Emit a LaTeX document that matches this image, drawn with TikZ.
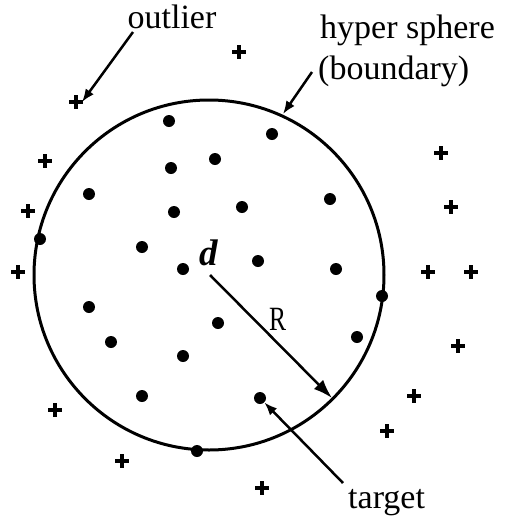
\documentclass[tikz,border=0pt]{standalone}
\usepackage{fontspec}
\setmainfont{Liberation Serif}
\usetikzlibrary{arrows.meta,calc}
\tikzset{
  dot/.style={circle,fill=black,inner sep=0pt,minimum size=12pt},
  arr/.style={line width=2.5pt,-{Latex[length=13pt,width=10pt]}},
  bigarr/.style={line width=2.5pt,-{Latex[length=19pt,width=13pt]}},
  lbl/.style={inner sep=0pt,anchor=base west,font=\fontsize{34}{40}\selectfont},
  pics/plusmark/.style={code={\draw[line width=3.2pt] (-7,0)--(7,0) (0,-7)--(0,7);}}
}
\begin{document}
\begin{tikzpicture}[x=1pt,y=-1pt]
\useasboundingbox (0,0) rectangle (504,520);
% boundary
\node[circle,draw,line width=3pt,minimum size=350pt,inner sep=0pt] (sph) at (209,275) {};
\coordinate (c) at (209,275);
% target points
\foreach \n/\x/\y in {a/169/121,b/272/134,e/215/159,f/171/168,g/89/194,h/330/199,i/242/207,j/174/212,k/40/239,l/142/247,m/258/261,n/183/269,o/336/269,p/382/296,q/89/307,r/218/323,s/357/337,t/111/342,u/183/356,v/142/396,tg/260/398,w/197/451}
  \node[dot] (\n) at (\x,\y) {};
% outliers
\foreach \n/\x/\y in {p1/239/52,p2/76/102,p3/45/161,p4/441/153,p5/451/207,p6/28/211,p7/18/272,p8/428/272,p9/471/272,p10/458/346,p11/414/396,p12/55/410,p13/387/431,p14/122/461,p15/262/488}
  \pic (\n) at (\x,\y) {plusmark};
\coordinate (p2tip) at (82,102);
% labels
\node[lbl,anchor=base] (out) at (172,28) {outlier};
\node[lbl,anchor=base west] (hs) at (320,38) {hyper sphere};
\node[lbl,anchor=base west] (bd) at (318,79) {(boundary)};
\node[lbl,anchor=base west] (tx) at (348,508) {target};
\node[inner sep=0pt,anchor=base west,font=\fontsize{37}{40}\selectfont\bfseries\itshape] (dl) at (199,265) {d};
\node[inner sep=0pt,anchor=base west,font=\fontsize{34}{40}\selectfont] (rl) at (269,330) {\scalebox{0.75}[1]{R}};
% arrows
\coordinate (o1) at (133,32);
\draw[arr] (o1) -- (p2tip);
\coordinate (b1) at (312,72);
\coordinate (b2) at (283,114);
\draw[arr] (b1) -- (b2);
\coordinate (r1) at (210,275);
\coordinate (r2) at ($(c)+(45:174)$);
\draw[bigarr] (r1) -- (r2);
\coordinate (t1) at (343,483);
\draw[arr] (t1) -- (tg);
\end{tikzpicture}
\end{document}
